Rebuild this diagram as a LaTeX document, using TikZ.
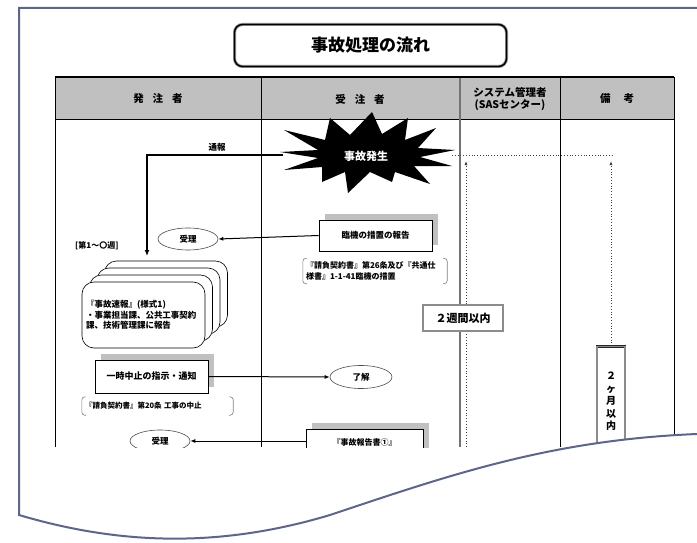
\documentclass[tikz,border=0pt]{standalone}
\usepackage{fontspec}
\setmainfont{Noto Sans CJK JP}
\usetikzlibrary{shapes.geometric,shadows,arrows.meta,calc}
\definecolor{framec}{HTML}{5D6589}
\definecolor{hdrgray}{HTML}{C0C0C0}
\definecolor{shadowc}{HTML}{C0C0C0}
\begin{document}
\begin{tikzpicture}[x=1pt,y=-1pt,
  fs/.style={font=\bfseries\fontsize{#1}{#1}\selectfont},
  hdr/.style={font=\bfseries\fontsize{10.5}{12}\selectfont, align=center, inner sep=0pt},
  gridline/.style={draw=black, line width=0.7pt},
  procbox/.style={draw=black, line width=0.7pt, fill=white,
    drop shadow={shadow xshift=6pt, shadow yshift=6pt, fill=shadowc, opacity=1},
    inner sep=2pt},
  ell/.style={ellipse, draw=black!70, line width=0.6pt, fill=white,
    minimum width=60pt, minimum height=22pt, inner sep=0pt},
  note/.style={font=\bfseries\fontsize{8}{10.5}\selectfont, align=left, inner sep=3pt},
  brk/.style={draw=black!50, line width=0.6pt, rounded corners=3pt},
  flowthick/.style={draw=black, line width=1.6pt, -{Latex[length=6pt,width=5pt]}},
  flowthin/.style={draw=black, line width=1pt, -{Latex[length=5pt,width=4pt]}},
  dotline/.style={draw=black!75, dotted, line width=0.8pt},
  dotarrow/.style={dotline, -{Latex[length=4pt,width=3pt]}},
  term/.style={draw=black!85, line width=0.7pt, double=black!45, double distance=1.3pt, fill=white, inner sep=1pt},
  stackbox/.style={draw=black, line width=0.6pt, fill=white, rounded corners=12pt,
    minimum width=123pt, minimum height=66pt}
]
\useasboundingbox (0,0) rectangle (697,543);
\fill[white] (0,0) rectangle (697,543);

% title
\node[draw=black!45, line width=0.8pt, double=black, double distance=1.4pt,
  rounded corners=8pt, minimum width=272pt, minimum height=42pt, fs=17] (title) at (370.5,45.5) {事故処理の流れ};

\begin{scope}
\clip (0,0) rectangle (697,447);
% header band and grid
\fill[hdrgray] (55,77) rectangle (674,119);
\draw[gridline] (55,119) -- (674,119);
\draw[gridline] (55,77) -- (55,447);
\draw[gridline] (261,77) -- (261,447);
\draw[draw=black!55, line width=1.2pt] (460,77) -- (460,447);
\draw[gridline] (560,77) -- (560,447);
\draw[gridline] (674,77) -- (674,447);
\draw[black, line width=1.6pt] (55,77) -- (674,77);

\node[hdr] (h1) at (158,99) {発\hspace{9pt}注\hspace{9pt}者};
\node[hdr] (h2) at (360,99) {受\hspace{9pt}注\hspace{9pt}者};
\node[hdr] (h3) at (510,99) {システム管理者\\(SASセンター)};
\node[hdr] (h4) at (617,99) {備\hspace{13pt}考};

% starburst
\fill[black] (280,152) -- (318,150) -- (284,130) -- (325,140) -- (330,118) -- (350,135)
  -- (372,112) -- (382,134) -- (408,118) -- (405,140) -- (436,128) -- (418,148)
  -- (455,150) -- (420,157) -- (452,166) -- (414,166) -- (430,184) -- (395,172)
  -- (392,182) -- (370,172) -- (348,193) -- (345,172) -- (322,182) -- (322,167)
  -- (284,170) -- (318,158) -- cycle;
\node[fs=11, text=white] (fire) at (366,156) {事故発生};
\coordinate (fireL) at (283,155);
\coordinate (fireR) at (452,155);

% notification arrow
\coordinate (tsuhoEnd) at (147,256);
\draw[flowthick] (fireL) -| (tsuhoEnd);
\node[fs=8.5] (tsuho) at (217,147) {通報};

% dotted deadlines
\coordinate (dotEnd) at (612,155);
\draw[dotline] (fireR) -- (dotEnd);
\coordinate (w2top) at (466,161);
\coordinate (w2bot) at (466,447);
\draw[dotarrow] (w2bot) -- (w2top);
\node[term, minimum width=80pt, minimum height=26pt, fs=11] (week2) at (463,318) {２週間以内};
\node[term, minimum width=28pt, minimum height=110pt, anchor=north, align=center,
  font=\bfseries\fontsize{10}{12.5}\selectfont] (month2) at (611,346) {２\\ヶ\\月\\以\\内};
\coordinate (m2top) at (611,161);
\draw[dotarrow] (month2.north) -- (m2top);

% 受理 / 臨機
\node[ell, fs=8.5] (juri1) at (188,239) {受理};
\node[procbox, minimum width=113pt, minimum height=31pt, fs=8.5] (rinki) at (375.5,235.5) {臨機の措置の報告};
\draw[flowthin] (rinki.west) -- (juri1.east);

\node[note, text width=138pt, minimum height=25pt] (note1) at (375,271)
  {『請負契約書』第26条及び『共通仕\\様書』1-1-41臨機の措置};
\draw[brk] ([xshift=4pt]note1.north west) -- (note1.north west) -- (note1.south west) -- ([xshift=4pt]note1.south west);
\draw[brk] ([xshift=-4pt]note1.north east) -- (note1.north east) -- (note1.south east) -- ([xshift=-4pt]note1.south east);

\node[fs=8, anchor=west, inner sep=0pt] (week) at (75,246) {[第1～〇週]};

% stacked report cards
\foreach \k in {3,2,1} {
  \node[stackbox] (stk\k) at ({143.5+7.5*\k},{315-7*\k}) {};
}
\node[stackbox, text width=115pt, align=left, inner sep=4pt,
  font=\bfseries\fontsize{8.5}{10.5}\selectfont] (stk0) at (143.5,315)
  {『事故速報』(様式1)\\・事業担当課、公共工事契約\\課、技術管理課に報告\\[4pt]};

% 一時中止
\node[procbox, minimum width=113pt, minimum height=33pt, fs=9] (chushi) at (151.5,376.5) {一時中止の指示・通知};
\node[ell, minimum width=62pt, minimum height=23pt, fs=8.5] (ryokai) at (361,377) {了解};
\draw[flowthin] (chushi.east) -- (ryokai.west);

\node[note, text width=145pt, minimum height=18pt, font=\bfseries\fontsize{7.5}{9}\selectfont] (note2) at (157.5,406)
  {『請負契約書』第20条 工事の中止};
\draw[brk] ([xshift=4pt]note2.north west) -- (note2.north west) -- (note2.south west) -- ([xshift=4pt]note2.south west);
\draw[brk] ([xshift=-4pt]note2.north east) -- (note2.north east) -- (note2.south east) -- ([xshift=-4pt]note2.south east);

% 事故報告書
\node[procbox, minimum width=117pt, minimum height=52pt, anchor=north] (report) at (364.5,429) {};
\node[fs=8] (reportT) at (364.5,442) {『事故報告書①』};
\node[ell, fs=8.5] (juri2) at (160,441) {受理};
\draw[flowthin] (report.west |- juri2.east) -- (juri2.east);
\end{scope}

% torn / wave bottom of the page frame
\fill[white] (0,543) -- (0,515) -- (19,515) .. controls (120,545) and (220,548) .. (330,515)
  .. controls (450,475) and (550,440) .. (697,434) -- (697,543) -- cycle;
\draw[framec, line width=2pt] (697,8) -- (19,8) -- (19,515) .. controls (120,545) and (220,548) .. (330,515)
  .. controls (450,475) and (550,440) .. (697,434);
\end{tikzpicture}
\end{document}
